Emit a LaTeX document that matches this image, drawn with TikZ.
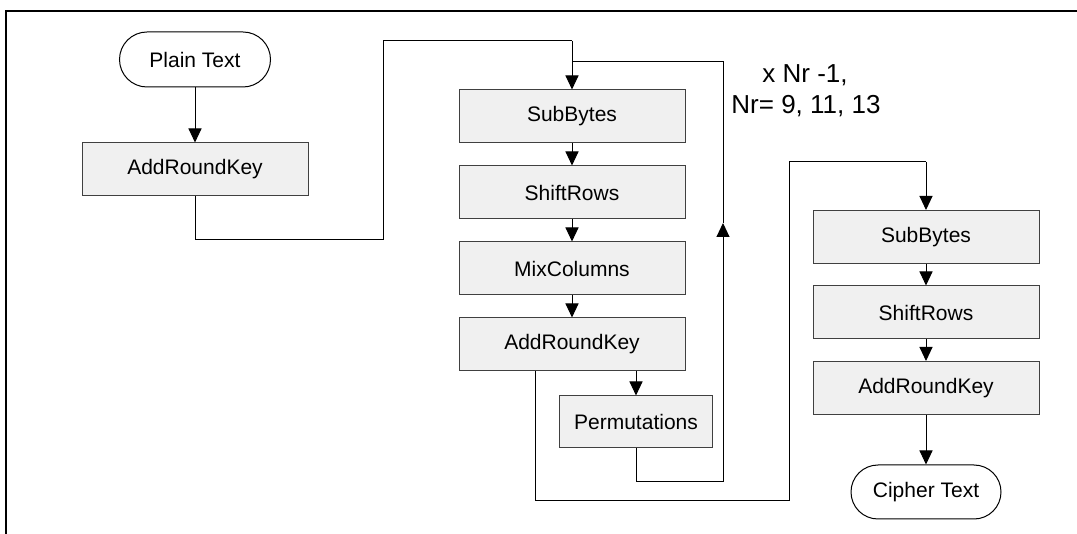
\documentclass[tikz,border=0pt]{standalone}
\usepackage{fontspec}
\setmainfont{Liberation Sans}
\usetikzlibrary{arrows.meta,shapes.misc}
\definecolor{boxfill}{HTML}{F0F0F0}
\definecolor{boxline}{HTML}{404040}
\begin{document}
\begin{tikzpicture}[x=1pt,y=-1pt,
  proc/.style={draw=boxline, fill=boxfill, line width=1pt, minimum width=226pt,
    minimum height=53pt, inner sep=0pt, font=\fontsize{21}{25}\selectfont},
  term/.style={draw=black, rounded rectangle, fill=white, line width=1pt,
    minimum width=151pt, minimum height=55pt, inner sep=0pt,
    font=\fontsize{21}{25}\selectfont},
  conn/.style={line width=1pt, draw=black},
  arr/.style={conn, -{Triangle[width=13pt,length=14pt]}},
  note/.style={font=\fontsize{26}{30}\selectfont, inner sep=0pt}]
\useasboundingbox (0,0) rectangle (1077,534);
% frame edges
\draw[line width=1.6pt] (6,534) -- (6,11) -- (1077,11);

% initial round
\node[term] (pt) at (195,59.5) {Plain Text};
\node[proc] (ark1) at (195,169.5) {AddRoundKey};

% main rounds
\node[proc] (sb1) at (572,116.5) {SubBytes};
\node[proc] (sr1) at (572,192.5) {ShiftRows};
\node[proc] (mc) at (572,268.5) {MixColumns};
\node[proc] (ark2) at (572,344.5) {AddRoundKey};
\node[proc, minimum width=153pt, minimum height=52pt] (perm) at (636,422) {Permutations};

% final round
\node[proc] (sb2) at (926,237) {SubBytes};
\node[proc] (sr2) at (926,312.5) {ShiftRows};
\node[proc] (ark3) at (926,388) {AddRoundKey};
\node[term, minimum width=150pt, minimum height=54pt] (ct) at (926,492) {Cipher Text};

% repetition note
\node[note] (rep1) at (805,75) {x Nr -1,};
\node[note] (rep2) at (806,106) {Nr= 9, 11, 13};

% helper points
\coordinate (a1) at (383,240);
\coordinate (a2) at (572,41);
\coordinate (p0) at (636,371);
\coordinate (l1) at (723,482);
\coordinate (l2) at (723,223);
\coordinate (l3) at (723,62);
\coordinate (l4) at (572,62);
\coordinate (e0) at (535,371);
\coordinate (e1) at (789,501);
\coordinate (e2) at (926,162);

% connectors
\draw[arr] (pt) -- (ark1);
\draw[conn] (ark1.south) |- (a1) |- (a2);
\draw[arr] (a2) -- (sb1.north);
\draw[arr] (sb1) -- (sr1);
\draw[arr] (sr1) -- (mc);
\draw[arr] (mc) -- (ark2);
\draw[arr] (p0) -- (perm.north);
\draw[arr] (perm.south) |- (l1) -- (l2);
\draw[conn] (l2) -- (l3) -- (l4);
\draw[conn] (e0) |- (e1) |- (e2);
\draw[arr] (e2) -- (sb2.north);
\draw[arr] (sb2) -- (sr2);
\draw[arr] (sr2) -- (ark3);
\draw[arr] (ark3) -- (ct);
\end{tikzpicture}
\end{document}
